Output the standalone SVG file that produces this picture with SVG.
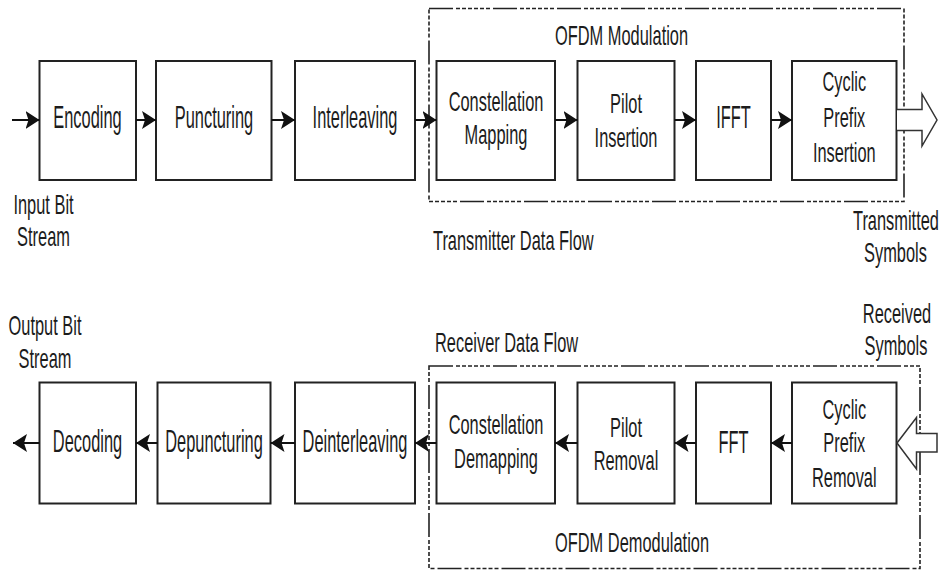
<svg xmlns="http://www.w3.org/2000/svg" width="941" height="571" viewBox="0 0 941 571">
<style>
text{font-family:"Liberation Sans",Arial,sans-serif;fill:#1c1c1c}
.b{font-size:30.5px;text-anchor:middle}
.m{font-size:28.5px;text-anchor:middle}
.l{font-size:28px}
.c{text-anchor:middle}
.box{fill:#fff;stroke:#222;stroke-width:2}
.grp{fill:none;stroke:#222;stroke-width:1.6;stroke-dasharray:24 3 4 2 4 2 4 2 4 2 4 2 4 3}
.ar{stroke:#111;stroke-width:2;fill:none;marker-end:url(#ah)}
.hol{fill:#fff;stroke:#333;stroke-width:1.5}
</style>
<defs>
<marker id="ah" markerUnits="userSpaceOnUse" viewBox="0 0 14 18" refX="14" refY="9" markerWidth="14" markerHeight="18" orient="auto">
<path d="M0,0 L14,9 L0,18 L3,9 Z" fill="#111"/>
</marker>
</defs>

<g id="ofdm-mod-group"><rect class="grp" x="429" y="8.5" width="475" height="193"/></g>
<g id="ofdm-demod-group"><rect class="grp" x="429" y="366" width="491" height="202.5"/></g>

<g id="encoding"><rect class="box" x="39.5" y="61" width="96.5" height="119"/><text class="b" transform="matrix(0.538 0 0 1 87.5 128)">Encoding</text></g>
<g id="puncturing"><rect class="box" x="156" y="61" width="115.5" height="119"/><text class="b" transform="matrix(0.538 0 0 1 214 128)">Puncturing</text></g>
<g id="interleaving"><rect class="box" x="295" y="61" width="120" height="119"/><text class="b" transform="matrix(0.538 0 0 1 355 128)">Interleaving</text></g>
<g id="constellation-mapping"><rect class="box" x="436.5" y="61" width="118.5" height="119"/><text class="m" transform="matrix(0.575 0 0 1 496 110.5)">Constellation</text><text class="m" transform="matrix(0.575 0 0 1 496 144)">Mapping</text></g>
<g id="pilot-insertion"><rect class="box" x="577.5" y="61" width="97" height="119"/><text class="m" transform="matrix(0.575 0 0 1 626 112.5)">Pilot</text><text class="m" transform="matrix(0.575 0 0 1 626 146.5)">Insertion</text></g>
<g id="ifft"><rect class="box" x="696" y="61" width="75" height="119"/><text class="b" transform="matrix(0.538 0 0 1 733.5 128)">IFFT</text></g>
<g id="cp-insertion"><rect class="box" x="792" y="61" width="104.5" height="119"/><text class="m" transform="matrix(0.575 0 0 1 844.3 91)">Cyclic</text><text class="m" transform="matrix(0.575 0 0 1 844.3 127)">Prefix</text><text class="m" transform="matrix(0.575 0 0 1 844.3 161.5)">Insertion</text></g>

<g id="decoding"><rect class="box" x="39.5" y="382.5" width="96.5" height="121"/><text class="b" transform="matrix(0.538 0 0 1 87.5 452)">Decoding</text></g>
<g id="depuncturing"><rect class="box" x="157.5" y="382.5" width="113" height="121"/><text class="b" transform="matrix(0.538 0 0 1 214 452)">Depuncturing</text></g>
<g id="deinterleaving"><rect class="box" x="295" y="382.5" width="120" height="121"/><text class="b" transform="matrix(0.538 0 0 1 355 452)">Deinterleaving</text></g>
<g id="constellation-demapping"><rect class="box" x="436.5" y="382.5" width="118.5" height="121"/><text class="m" transform="matrix(0.575 0 0 1 496 433.5)">Constellation</text><text class="m" transform="matrix(0.575 0 0 1 496 468)">Demapping</text></g>
<g id="pilot-removal"><rect class="box" x="577.5" y="382.5" width="97" height="121"/><text class="m" transform="matrix(0.575 0 0 1 626 436.5)">Pilot</text><text class="m" transform="matrix(0.575 0 0 1 626 469.5)">Removal</text></g>
<g id="fft"><rect class="box" x="696" y="382.5" width="75" height="121"/><text class="b" transform="matrix(0.538 0 0 1 733.5 453)">FFT</text></g>
<g id="cp-removal"><rect class="box" x="792" y="382.5" width="104.5" height="121"/><text class="m" transform="matrix(0.575 0 0 1 844.3 418.5)">Cyclic</text><text class="m" transform="matrix(0.575 0 0 1 844.3 452)">Prefix</text><text class="m" transform="matrix(0.575 0 0 1 844.3 486.5)">Removal</text></g>

<g id="connectors">
<line class="ar" x1="12" y1="120" x2="39.5" y2="120"/>
<line class="ar" x1="136" y1="120" x2="156" y2="120"/>
<line class="ar" x1="271.5" y1="120" x2="295" y2="120"/>
<line class="ar" x1="415" y1="120" x2="436.5" y2="120"/>
<line class="ar" x1="555" y1="120" x2="577.5" y2="120"/>
<line class="ar" x1="674.5" y1="120" x2="696" y2="120"/>
<line class="ar" x1="771" y1="120" x2="792" y2="120"/>
<path class="hol" d="M897,109.5 H922 V94 L937,120 L922,146 V130.5 H897"/>

<line class="ar" x1="39.5" y1="443" x2="13" y2="443"/>
<line class="ar" x1="157.5" y1="443" x2="136" y2="443"/>
<line class="ar" x1="295" y1="443" x2="270.5" y2="443"/>
<line class="ar" x1="436.5" y1="443" x2="415" y2="443"/>
<line class="ar" x1="577.5" y1="443" x2="555" y2="443"/>
<line class="ar" x1="696" y1="443" x2="674.5" y2="443"/>
<line class="ar" x1="792" y1="443" x2="771" y2="443"/>
<path class="hol" d="M897,443 L916.5,417.5 V433.5 H937 V452 H916.5 V469 Z"/>
</g>

<g id="labels">
<text class="l" transform="matrix(0.586 0 0 1 555 45)">OFDM Modulation</text>
<text class="l c" transform="matrix(0.586 0 0 1 43.5 214)">Input Bit</text>
<text class="l c" transform="matrix(0.586 0 0 1 43.5 245.5)">Stream</text>
<text class="l" transform="matrix(0.586 0 0 1 433 250)">Transmitter Data Flow</text>
<text class="l" transform="matrix(0.586 0 0 1 853 230)">Transmitted</text>
<text class="l c" transform="matrix(0.586 0 0 1 895.5 261.5)">Symbols</text>
<text class="l c" transform="matrix(0.586 0 0 1 45 335)">Output Bit</text>
<text class="l c" transform="matrix(0.586 0 0 1 45 368)">Stream</text>
<text class="l" transform="matrix(0.586 0 0 1 435 351.5)">Receiver Data Flow</text>
<text class="l c" transform="matrix(0.586 0 0 1 897 323)">Received</text>
<text class="l c" transform="matrix(0.586 0 0 1 896 355)">Symbols</text>
<text class="l" transform="matrix(0.586 0 0 1 555 551.5)">OFDM Demodulation</text>
</g>
</svg>
